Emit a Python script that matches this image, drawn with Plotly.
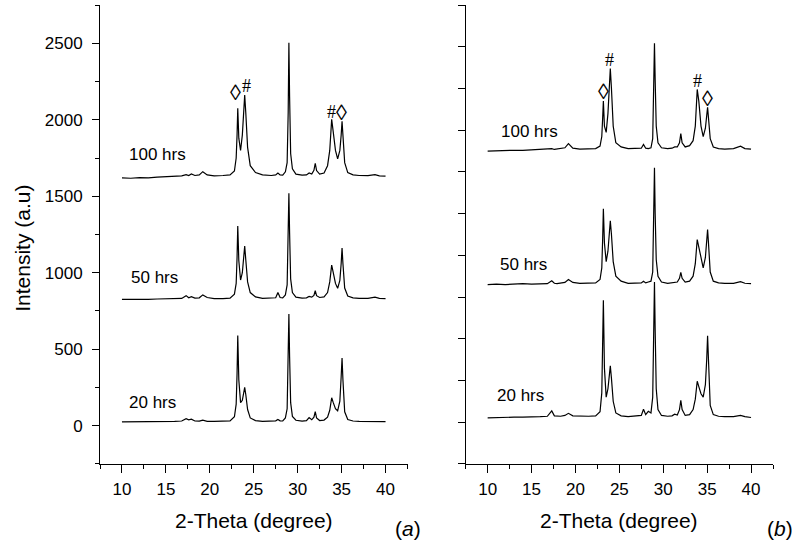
import plotly.graph_objects as go

# ---------------- data ----------------
two_theta = [10.0, 11.0, 12.0, 13.0, 14.0, 15.0, 16.0, 16.8, 17.3, 17.6, 17.9, 18.3, 18.8, 19.2, 19.7,
             20.5, 21.5, 22.3, 22.8, 23.0, 23.1, 23.18, 23.3, 23.5, 23.7, 23.85, 23.97, 24.1, 24.3,
             24.6, 25.2, 26.0, 27.0, 27.5, 27.75, 28.0, 28.3, 28.6, 28.8, 28.92, 29.0, 29.08, 29.2,
             29.4, 29.8, 30.5, 31.0, 31.3, 31.6, 31.85, 32.0, 32.15, 32.5, 33.0, 33.4, 33.65, 33.87,
             34.05, 34.3, 34.55, 34.8, 34.95, 35.05, 35.15, 35.35, 35.7, 36.3, 37.0, 38.0, 38.8, 39.3, 40.0]

# panel (a)
a_20 = [24, 24, 25, 25, 26, 26, 27, 30, 45, 38, 42, 30, 29, 36, 28,
        27, 28, 31, 58, 140, 340, 590, 300, 150, 165, 210, 250, 200, 105,
        50, 33, 28, 28, 31, 40, 31, 30, 50, 110, 400, 730, 450, 150,
        60, 35, 29, 32, 52, 38, 55, 92, 50, 33, 36, 55, 100, 182,
        150, 110, 97, 160, 320, 442, 300, 90, 40, 30, 28, 28, 30, 27, 26]
a_50 = [826, 824, 826, 825, 828, 828, 830, 832, 850, 836, 843, 834, 836, 855, 838,
        830, 830, 834, 860, 930, 1100, 1306, 1080, 952, 1000, 1110, 1175, 1080, 940,
        870, 842, 832, 832, 836, 870, 838, 836, 855, 920, 1200, 1520, 1260, 960,
        870, 840, 834, 836, 845, 840, 852, 882, 850, 838, 842, 870, 940, 1050,
        1000, 930, 898, 950, 1060, 1162, 1060, 900, 848, 836, 832, 832, 840, 832, 830]
a_100 = [1620, 1618, 1622, 1620, 1625, 1628, 1630, 1634, 1642, 1636, 1646, 1636, 1640, 1661, 1640,
         1634, 1636, 1640, 1665, 1750, 1900, 2075, 1880, 1800, 1900, 2080, 2162, 2040, 1820,
         1700, 1655, 1640, 1636, 1640, 1652, 1640, 1638, 1660, 1720, 2050, 2505, 2150, 1780,
         1680, 1645, 1638, 1640, 1652, 1645, 1670, 1716, 1668, 1645, 1652, 1700, 1800, 2003,
         1920, 1800, 1745, 1800, 1900, 1990, 1900, 1720, 1655, 1640, 1636, 1635, 1642, 1634, 1632]

# panel (b) (unlabelled intensity axis)
b_20 = [0.10, 0.11, 0.11, 0.12, 0.12, 0.12, 0.13, 0.14, 0.27, 0.15, 0.14, 0.14, 0.16, 0.21, 0.15,
        0.14, 0.14, 0.15, 0.25, 0.70, 1.70, 2.92, 1.30, 0.60, 0.80, 1.15, 1.35, 1.05, 0.50,
        0.22, 0.15, 0.13, 0.14, 0.16, 0.31, 0.18, 0.26, 0.22, 0.60, 2.00, 3.36, 2.20, 0.80,
        0.30, 0.16, 0.14, 0.15, 0.19, 0.17, 0.30, 0.52, 0.30, 0.16, 0.18, 0.30, 0.55, 0.98,
        0.85, 0.68, 0.60, 0.90, 1.50, 2.07, 1.50, 0.40, 0.18, 0.14, 0.13, 0.13, 0.16, 0.13, 0.11]
b_50 = [3.30, 3.31, 3.30, 3.31, 3.32, 3.31, 3.32, 3.32, 3.39, 3.33, 3.32, 3.33, 3.35, 3.42, 3.35,
        3.33, 3.33, 3.34, 3.42, 3.70, 4.40, 5.12, 4.30, 3.85, 4.10, 4.60, 4.83, 4.50, 3.85,
        3.50, 3.38, 3.33, 3.33, 3.34, 3.38, 3.34, 3.36, 3.38, 3.60, 4.80, 6.10, 5.00, 3.90,
        3.50, 3.36, 3.33, 3.34, 3.36, 3.36, 3.45, 3.59, 3.45, 3.36, 3.38, 3.50, 3.80, 4.38,
        4.20, 3.90, 3.70, 3.95, 4.35, 4.62, 4.30, 3.60, 3.38, 3.34, 3.33, 3.33, 3.37, 3.33, 3.32]
b_100 = [6.50, 6.51, 6.51, 6.52, 6.52, 6.53, 6.53, 6.54, 6.56, 6.54, 6.55, 6.56, 6.58, 6.68, 6.57,
         6.55, 6.55, 6.56, 6.62, 6.85, 7.30, 7.70, 7.10, 6.95, 7.40, 8.10, 8.48, 8.00, 7.10,
         6.70, 6.60, 6.56, 6.56, 6.57, 6.66, 6.57, 6.56, 6.58, 6.80, 8.00, 9.09, 8.20, 7.10,
         6.70, 6.58, 6.56, 6.57, 6.60, 6.60, 6.70, 6.92, 6.70, 6.60, 6.63, 6.75, 7.10, 7.98,
         7.70, 7.10, 6.85, 7.05, 7.35, 7.55, 7.30, 6.80, 6.60, 6.56, 6.55, 6.56, 6.62, 6.56, 6.55]

labels = ["20 hrs", "50 hrs", "100 hrs"]
label_x_a = [10.6, 10.8, 10.6]
label_y_a = [154, 967, 1772]
label_x_b = [10.83, 11.2, 11.32]
label_y_b = [0.63, 3.78, 6.96]

marks = ["◊", "#", "#", "◊"]
mark_x_a = [22.92, 24.17, 33.83, 34.97]
mark_y_a = [2176, 2221, 2051, 2045]
mark_x_b = [23.18, 23.93, 33.95, 35.09]
mark_y_b = [7.92, 8.68, 8.18, 7.77]

y_ticks_a = [0, 500, 1000, 1500, 2000, 2500]
y_minor_a = [-250, 250, 750, 1250, 1750, 2250, 2750]

# ---------------- figure ----------------
W, H = 792, 541
FONT = "Liberation Sans, Arial, sans-serif"
line = dict(color="black", width=1.2)

fig = go.Figure()
for ys in (a_20, a_50, a_100):
    fig.add_trace(go.Scatter(x=two_theta, y=ys, mode="lines", line=line,
                             xaxis="x", yaxis="y", hoverinfo="skip"))
for ys in (b_20, b_50, b_100):
    fig.add_trace(go.Scatter(x=two_theta, y=ys, mode="lines", line=line,
                             xaxis="x2", yaxis="y2", hoverinfo="skip"))

ydom = [(H - 463.8) / H, (H - 5.2) / H]

common_x = dict(range=[7.5, 42.5], showline=True, linecolor="black", linewidth=1,
                ticks="outside", ticklen=8, tickwidth=1, tickcolor="black",
                tick0=0, dtick=5, showgrid=False, zeroline=False,
                minor=dict(ticks="outside", ticklen=4, tickwidth=1, tickcolor="black",
                           dtick=2.5, tick0=0, showgrid=False),
                tickfont=dict(family=FONT, size=17, color="black"),
                ticklabelstandoff=2, automargin=False, fixedrange=True)

fig.update_layout(
    width=W, height=H, margin=dict(l=0, r=0, t=0, b=0),
    template="none", paper_bgcolor="white", plot_bgcolor="white",
    showlegend=False,
    xaxis=dict(domain=[100 / W, 407.5 / W], anchor="y", **common_x),
    xaxis2=dict(domain=[465.7 / W, 773 / W], anchor="y2", **common_x),
    yaxis=dict(domain=ydom, anchor="x", range=[-250, 2750], tickmode="array",
               tickvals=y_ticks_a, ticktext=[str(v) for v in y_ticks_a],
               showline=True, linecolor="black", linewidth=1,
               ticks="outside", ticklen=7, tickwidth=1, tickcolor="black",
               minor=dict(ticks="outside", ticklen=4, tickwidth=1, tickcolor="black",
                          tickvals=y_minor_a, showgrid=False),
               showgrid=False, zeroline=False,
               tickfont=dict(family=FONT, size=17, color="black"),
               ticklabelstandoff=6, automargin=False, fixedrange=True),
    yaxis2=dict(domain=ydom, anchor="x2", range=[-1, 10], tick0=0, dtick=1,
                showticklabels=False, showline=True, linecolor="black", linewidth=1,
                ticks="outside", ticklen=7, tickwidth=1, tickcolor="black",
                showgrid=False, zeroline=False, automargin=False, fixedrange=True),
)

ann = []
for t, x, y in zip(labels, label_x_a, label_y_a):
    ann.append(dict(text=t, x=x, y=y, xref="x", yref="y", xanchor="left", yanchor="middle",
                    showarrow=False, font=dict(family=FONT, size=17, color="black")))
for t, x, y in zip(labels, label_x_b, label_y_b):
    ann.append(dict(text=t, x=x, y=y, xref="x2", yref="y2", xanchor="left", yanchor="middle",
                    showarrow=False, font=dict(family=FONT, size=17, color="black")))
MARK_FONT = "Liberation Serif, serif"
for xs, ys, xr, yr in ((mark_x_a, mark_y_a, "x", "y"), (mark_x_b, mark_y_b, "x2", "y2")):
    for t, x, y in zip(marks, xs, ys):
        ann.append(dict(text=t, x=x, y=y, xref=xr, yref=yr, xanchor="center", yanchor="middle",
                        showarrow=False,
                        font=dict(family=MARK_FONT, size=22 if t == "◊" else 18, color="black")))

# axis titles and panel letters
for cx in (253.5, 619):
    ann.append(dict(text="2-Theta (degree)", x=cx / W, y=(H - 520) / H, xref="paper", yref="paper",
                    xanchor="center", yanchor="middle", showarrow=False,
                    font=dict(family=FONT, size=21, color="black")))
ann.append(dict(text="Intensity (a.u)", x=23 / W, y=(H - 248.8) / H, xref="paper", yref="paper",
                xanchor="center", yanchor="middle", textangle=-90, showarrow=False,
                font=dict(family=FONT, size=21, color="black")))
ann.append(dict(text="(<i>a</i>)", x=393 / W, y=(H - 528) / H, xref="paper", yref="paper",
                xanchor="left", yanchor="middle", showarrow=False,
                font=dict(family=FONT, size=21, color="black")))
ann.append(dict(text="(<i>b</i>)", x=765 / W, y=(H - 528) / H, xref="paper", yref="paper",
                xanchor="left", yanchor="middle", showarrow=False,
                font=dict(family=FONT, size=21, color="black")))

fig.update_layout(annotations=ann)
fig.write_html("out.html", config={"displayModeBar": False},
               post_script="document.body.style.margin='0';document.body.style.overflow='hidden';")
